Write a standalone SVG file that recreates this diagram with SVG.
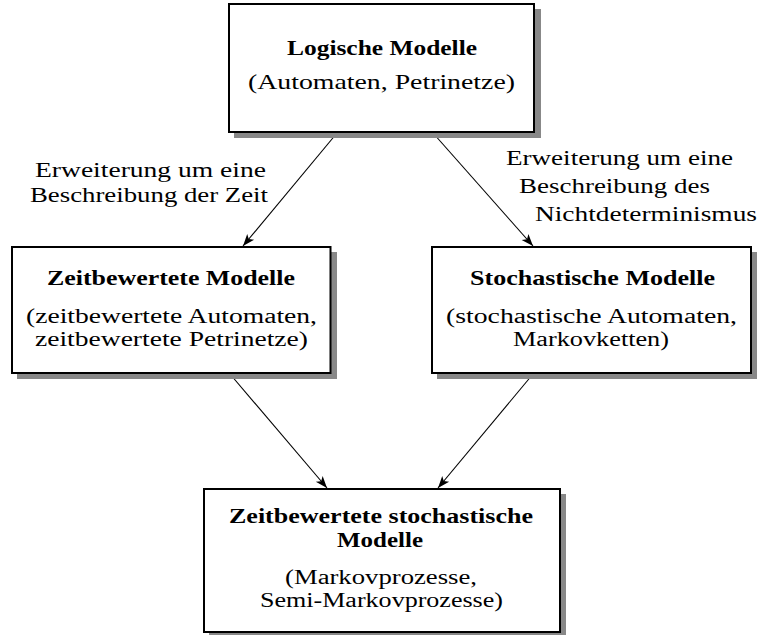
<svg xmlns="http://www.w3.org/2000/svg" width="760" height="635" viewBox="0 0 760 635">
<style>
.box{fill:#fff;stroke:#000;stroke-width:2}
.shadow{fill:#888;stroke:none}
text{font-family:"Liberation Serif","Times New Roman",serif;font-size:21px;fill:#000}
.b{font-weight:bold}
.s{font-size:20px}
.conn{stroke:#000;stroke-width:1.1;fill:none}
</style>
<defs>
<marker id="arr" viewBox="-13 -6 14 12" refX="0" refY="0" markerWidth="14" markerHeight="12" markerUnits="userSpaceOnUse" orient="auto">
<path d="M0,0 L-12,-4.5 L-9,0 L-12,4.5 Z" fill="#000"/>
</marker>
</defs>
<rect width="760" height="635" fill="#fff"/>
<g id="connectors">
<line class="conn" x1="337" y1="133" x2="243" y2="246" marker-end="url(#arr)"/>
<line class="conn" x1="433" y1="133" x2="533" y2="246" marker-end="url(#arr)"/>
<line class="conn" x1="230" y1="374" x2="327" y2="488" marker-end="url(#arr)"/>
<line class="conn" x1="533" y1="374" x2="438" y2="488" marker-end="url(#arr)"/>
</g>
<g id="label-left">
<text x="35" y="177" textLength="231" lengthAdjust="spacingAndGlyphs">Erweiterung um eine</text>
<text x="30" y="202" textLength="238" lengthAdjust="spacingAndGlyphs">Beschreibung der Zeit</text>
</g>
<g id="label-right">
<text x="506" y="165" textLength="227" lengthAdjust="spacingAndGlyphs">Erweiterung um eine</text>
<text x="519" y="193" textLength="191" lengthAdjust="spacingAndGlyphs">Beschreibung des</text>
<text x="535" y="221" textLength="222" lengthAdjust="spacingAndGlyphs">Nichtdeterminismus</text>
</g>
<g id="node-logisch">
<rect class="shadow" x="234" y="9" width="307" height="129"/>
<rect class="box" x="229" y="4" width="305" height="128"/>
<text class="b" x="287" y="55" textLength="190" lengthAdjust="spacingAndGlyphs">Logische Modelle</text>
<text x="248" y="89" textLength="267" lengthAdjust="spacingAndGlyphs">(Automaten, Petrinetze)</text>
</g>
<g id="node-zeit">
<rect class="shadow" x="17" y="252" width="320" height="127"/>
<rect class="box" x="12" y="247" width="318.5" height="126"/>
<text class="b" x="47" y="285" textLength="248" lengthAdjust="spacingAndGlyphs">Zeitbewertete Modelle</text>
<text class="s" x="26" y="323" textLength="291" lengthAdjust="spacingAndGlyphs">(zeitbewertete Automaten,</text>
<text class="s" x="35" y="346" textLength="273" lengthAdjust="spacingAndGlyphs">zeitbewertete Petrinetze)</text>
</g>
<g id="node-stoch">
<rect class="shadow" x="437" y="252" width="320" height="127"/>
<rect class="box" x="432" y="247" width="319" height="126"/>
<text class="b" x="470" y="285" textLength="245" lengthAdjust="spacingAndGlyphs">Stochastische Modelle</text>
<text class="s" x="446" y="323" textLength="291" lengthAdjust="spacingAndGlyphs">(stochastische Automaten,</text>
<text class="s" x="513" y="346" textLength="156" lengthAdjust="spacingAndGlyphs">Markovketten)</text>
</g>
<g id="node-zeitstoch">
<rect class="shadow" x="209" y="494" width="357" height="145"/>
<rect class="box" x="204" y="489" width="356" height="143"/>
<text class="b" x="229" y="523" textLength="304" lengthAdjust="spacingAndGlyphs">Zeitbewertete stochastische</text>
<text class="b" x="337" y="547" textLength="86" lengthAdjust="spacingAndGlyphs">Modelle</text>
<text class="s" x="285" y="584" textLength="192" lengthAdjust="spacingAndGlyphs">(Markovprozesse,</text>
<text class="s" x="260" y="607" textLength="243" lengthAdjust="spacingAndGlyphs">Semi-Markovprozesse)</text>
</g>
</svg>
